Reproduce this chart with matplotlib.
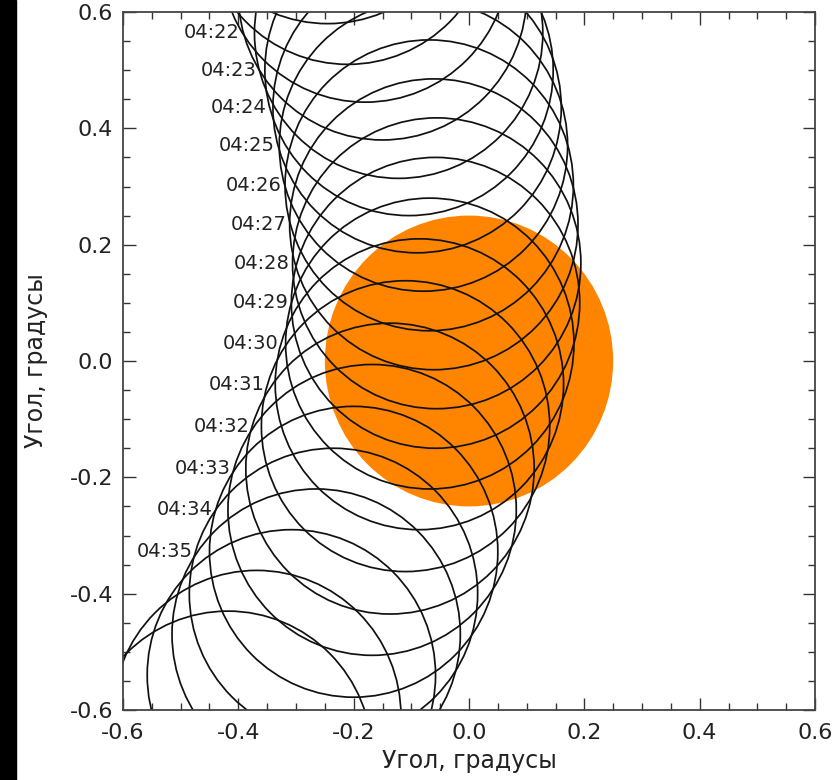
import numpy as np
import matplotlib
matplotlib.use('Agg')
import matplotlib.pyplot as plt
from matplotlib.patches import Circle, Rectangle
from matplotlib.ticker import MultipleLocator, FormatStrFormatter

plt.rcParams['font.family'] = ['DejaVu Sans']
plt.rcParams['axes.unicode_minus'] = False

# положения центра Луны по минутам (градусы)
times = ['04:18', '04:19', '04:20', '04:21', '04:22', '04:23', '04:24', '04:25',
         '04:26', '04:27', '04:28', '04:29', '04:30', '04:31', '04:32', '04:33',
         '04:34', '04:35', '04:36', '04:37', '04:38', '04:39', '04:40']
moon_x = [-0.245, -0.21, -0.180, -0.150, -0.122, -0.104, -0.090, -0.079,
          -0.069, -0.061, -0.056, -0.058, -0.068, -0.086, -0.110, -0.137,
          -0.168, -0.200, -0.235, -0.265, -0.308, -0.368, -0.418]
moon_y = [0.83, 0.76, 0.695, 0.63, 0.564, 0.500, 0.436, 0.370,
          0.302, 0.235, 0.168, 0.100, 0.030, -0.040, -0.112, -0.185,
          -0.256, -0.328, -0.400, -0.470, -0.540, -0.610, -0.680]
moon_r = 0.25
labeled = ['04:22', '04:23', '04:24', '04:25', '04:26', '04:27', '04:28',
           '04:29', '04:30', '04:31', '04:32', '04:33', '04:34', '04:35']

# Солнце
sun_x, sun_y, sun_r = 0.0, 0.0, 0.25

mx = np.array(moon_x)
my = np.array(moon_y)


def left_edge(y):
    # левая граница семейства кругов на высоте y
    d = np.abs(my - y)
    ok = d < moon_r
    return np.min(mx[ok] - np.sqrt(moon_r ** 2 - d[ok] ** 2))


fig = plt.figure(figsize=(8.38, 7.8), dpi=100)
# чёрная полоса слева, как на исходной картинке
fig.patches.append(Rectangle((0, 0), 16 / 838, 1, transform=fig.transFigure,
                             color='black', zorder=0))
ax = fig.add_axes([123 / 838, 70 / 780, 692 / 838, 698 / 780])

ax.add_patch(Circle((sun_x, sun_y), sun_r, color='#ff8400', lw=0, zorder=1))

for t, x, y in zip(times, moon_x, moon_y):
    ax.add_patch(Circle((x, y), moon_r, fill=False, ec='#111111', lw=1.25, zorder=2))
    if t in labeled:
        ax.text(left_edge(y) - 0.005, y, t, ha='right', va='center',
                fontsize=14, color='#222222', zorder=3)

ax.set_xlim(-0.6, 0.6)
ax.set_ylim(-0.6, 0.6)
ax.xaxis.set_major_locator(MultipleLocator(0.2))
ax.yaxis.set_major_locator(MultipleLocator(0.2))
ax.xaxis.set_minor_locator(MultipleLocator(0.05))
ax.yaxis.set_minor_locator(MultipleLocator(0.05))
ax.xaxis.set_major_formatter(FormatStrFormatter('%.1f'))
ax.yaxis.set_major_formatter(FormatStrFormatter('%.1f'))
ax.tick_params(which='both', direction='in', top=True, right=True,
               color='#333333', width=1.0, labelsize=16, labelcolor='#222222')
ax.tick_params(which='major', length=9)
ax.tick_params(which='minor', length=5)
ax.tick_params(axis='x', pad=9.5)
ax.tick_params(axis='y', pad=7)
for s in ax.spines.values():
    s.set_color('#444444')
    s.set_linewidth(1.3)

ax.set_xlabel('Угол, градусы', fontsize=17, color='#222222', labelpad=4)
ax.set_ylabel('Угол, градусы', fontsize=17, color='#222222', labelpad=16)

fig.savefig('out.png', dpi=100)
